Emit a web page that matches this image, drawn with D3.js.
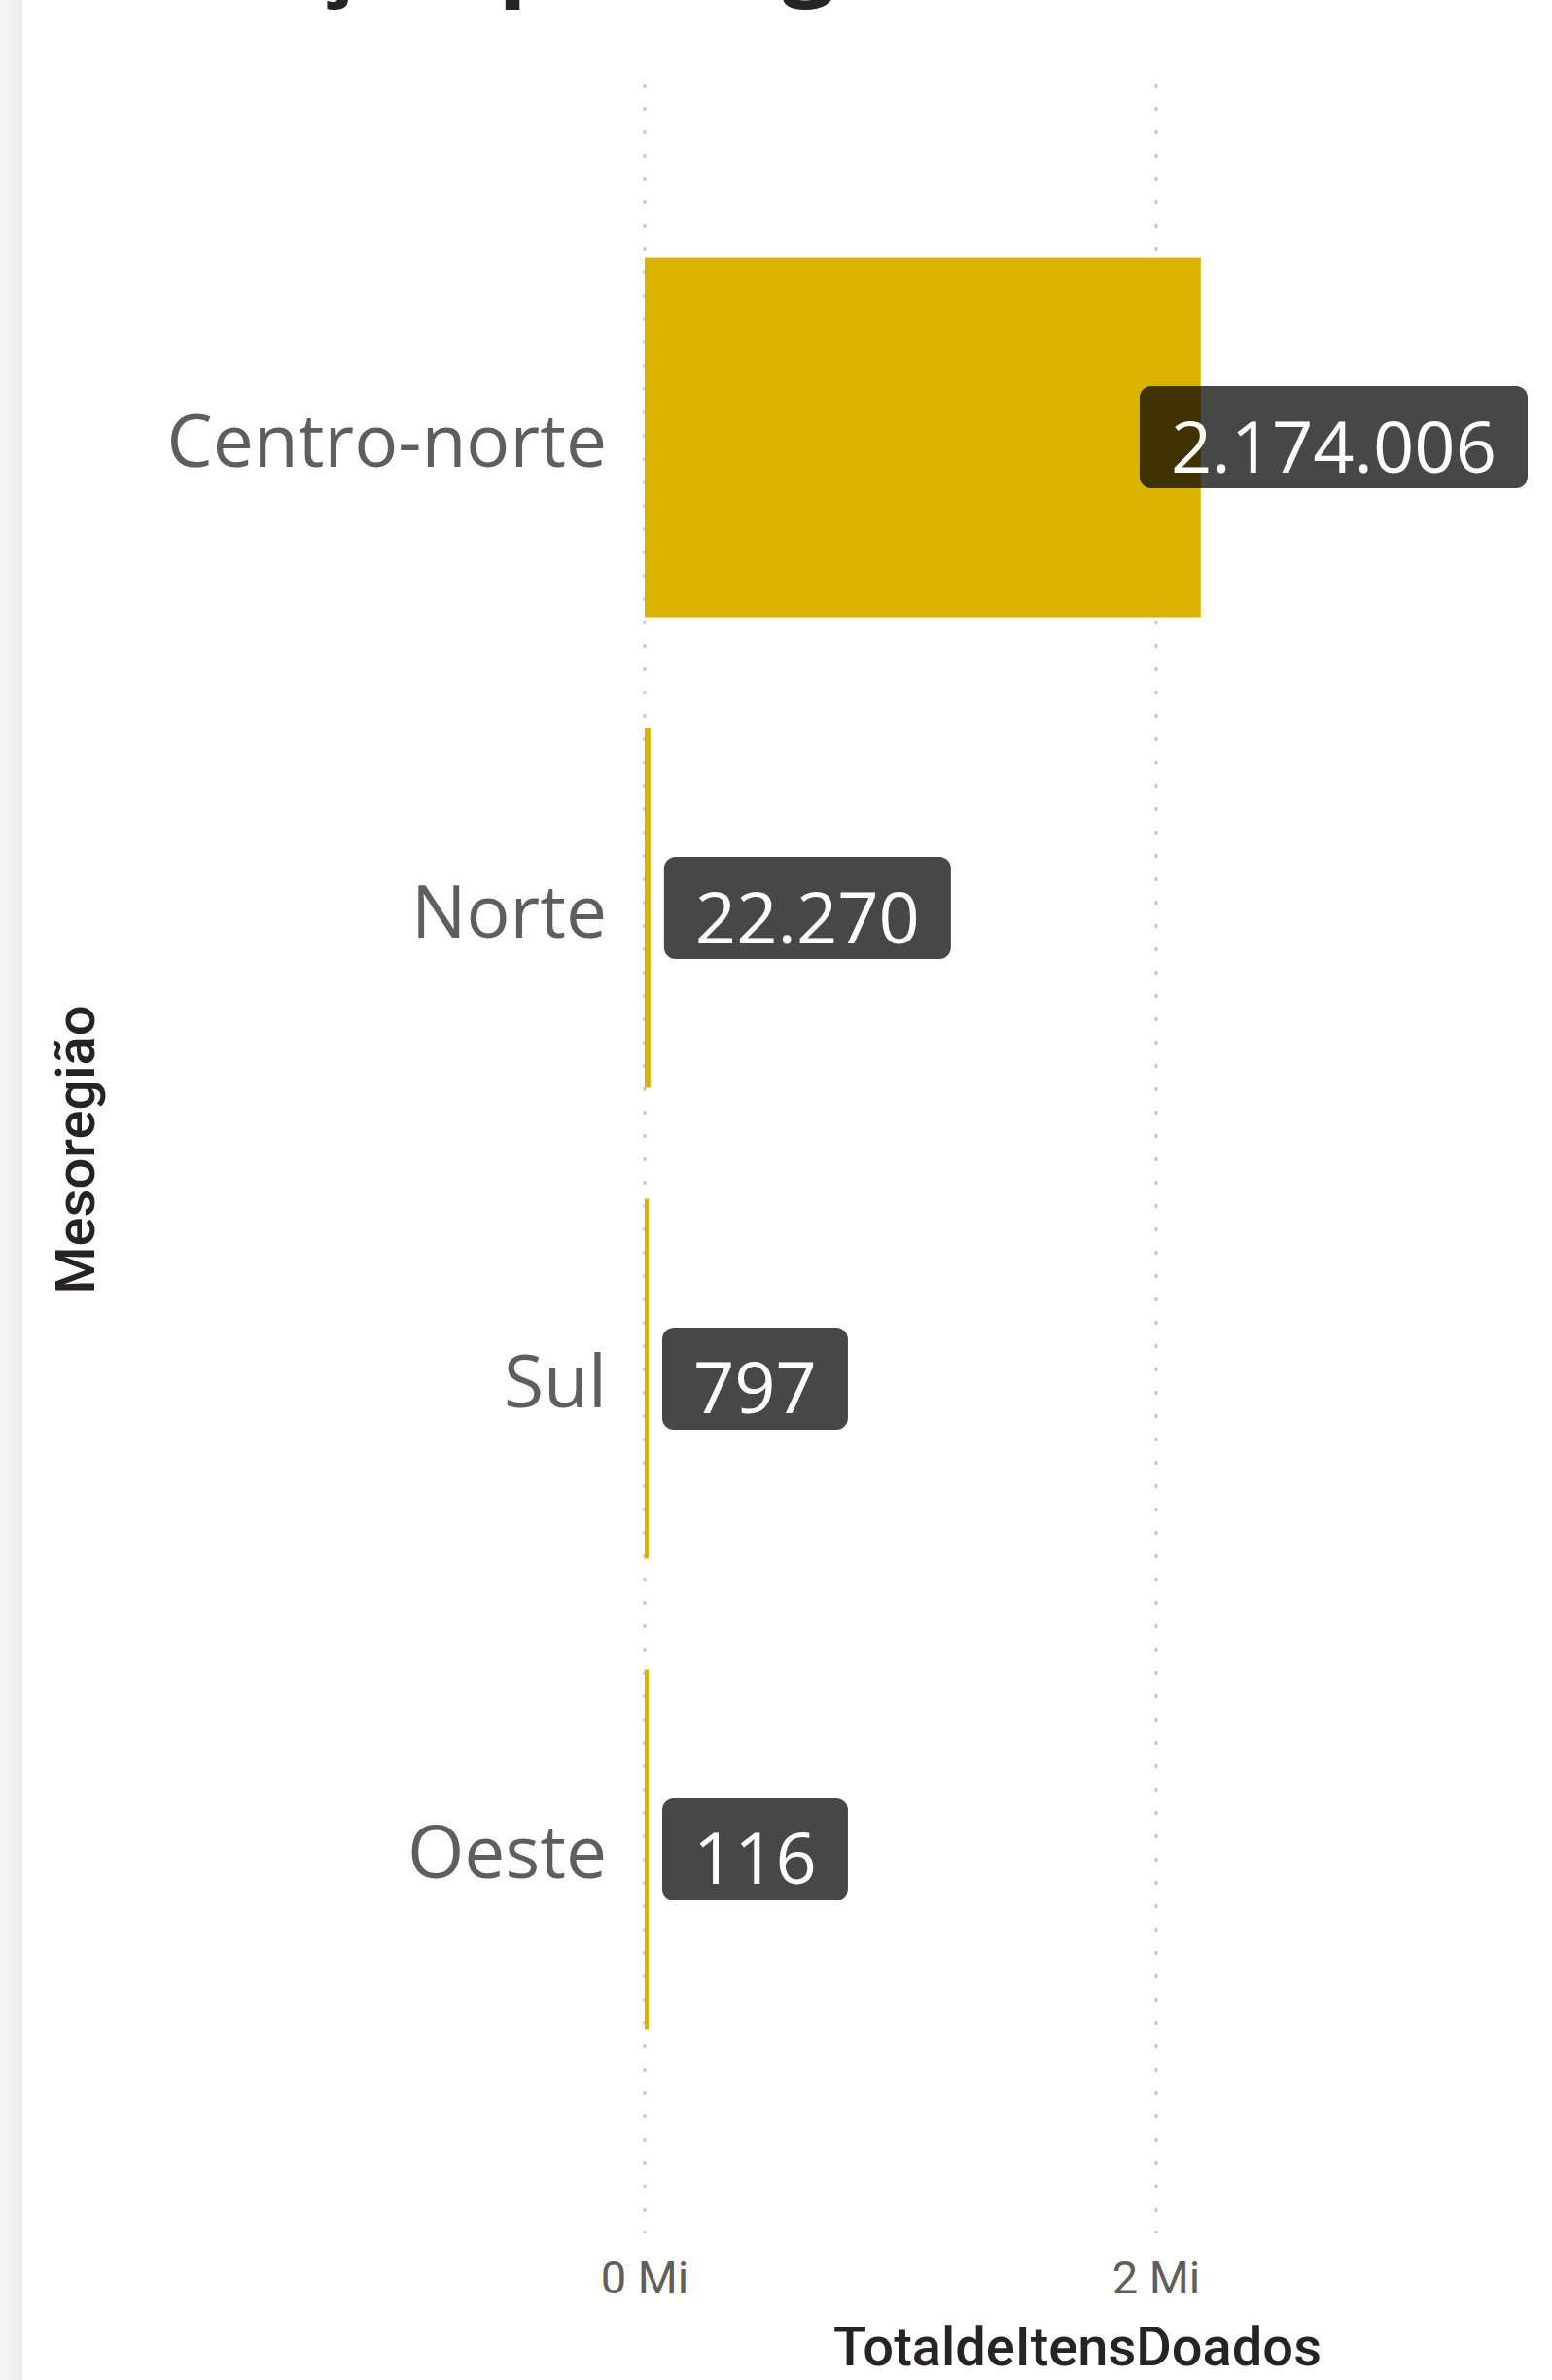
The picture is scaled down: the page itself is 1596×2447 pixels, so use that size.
<!DOCTYPE html>
<html>
<head>
<meta charset="utf-8">
<script src="https://cdn.jsdelivr.net/npm/d3@7"></script>
<style>
  body { margin: 0; background: #fff; }
  svg { display: block; }
</style>
</head>
<body>
<div id="chart"></div>
<script>
// DATA
const categories = ["Centro-norte", "Norte", "Sul", "Oeste"];
const values = [2174006, 22270, 797, 116];
const tickValues = [0, 2000000];
const tickLabels = ["0 Mi", "2 Mi"];
const xMax = 3384000;
const chartTitle = "Doação por região";
const xTitle = "TotaldeItensDoados";
const yTitle = "Mesoregião";

const W = 1596, H = 2447;
const barColor = "#D9B300";
const textGray = "#605E5C";
const labelFont = "'Segoe UI', 'Open Sans', sans-serif";
const dinFont = "Roboto, 'DIN', sans-serif";

const ptBR = d3.formatLocale({ decimal: ",", thousands: ".", grouping: [3], currency: ["R$", ""] });
const fmt = ptBR.format(",d");

const svg = d3.select("#chart").append("svg")
  .attr("width", W)
  .attr("height", H);

// left panel shadow
const defs = svg.append("defs");
const grad = defs.append("linearGradient").attr("id", "shadow");
grad.append("stop").attr("offset", "0%").attr("stop-color", "#f7f7f7");
grad.append("stop").attr("offset", "100%").attr("stop-color", "#ececec");
svg.append("rect").attr("x", 0).attr("y", 0).attr("width", 23).attr("height", H)
  .attr("fill", "url(#shadow)");

// title (mostly cut off at top, as in the screenshot)
svg.append("text")
  .attr("x", 128)
  .attr("y", -13)
  .attr("font-family", "'Open Sans', sans-serif")
  .attr("font-weight", 700)
  .attr("font-size", 97)
  .attr("fill", "#252423")
  .text(chartTitle);

// scales
const x = d3.scaleLinear().domain([0, xMax]).range([663, 1553]);
const y = d3.scaleBand().domain(categories).range([86, 2265])
  .paddingInner(0.2355).paddingOuter(0.369);

// gridlines
svg.append("g").selectAll("line")
  .data(tickValues)
  .enter().append("line")
  .attr("x1", d => x(d)).attr("x2", d => x(d))
  .attr("y1", 86).attr("y2", 2296)
  .attr("stroke", "#c8c8c8")
  .attr("stroke-width", 3)
  .attr("stroke-dasharray", "4 20");

// x axis tick labels
svg.append("g").selectAll("text")
  .data(tickValues)
  .enter().append("text")
  .attr("x", d => x(d))
  .attr("y", 2358)
  .attr("text-anchor", "middle")
  .attr("font-family", dinFont)
  .attr("font-size", 47)
  .attr("fill", textGray)
  .text((d, i) => tickLabels[i]);

// x axis title
svg.append("text")
  .attr("x", (x.range()[0] + x.range()[1]) / 2)
  .attr("y", 2432)
  .attr("text-anchor", "middle")
  .attr("font-family", dinFont)
  .attr("font-weight", 500)
  .attr("font-size", 56)
  .attr("fill", "#252423")
  .text(xTitle);

// y axis title
svg.append("text")
  .attr("transform", "translate(97,1182) rotate(-90)")
  .attr("text-anchor", "middle")
  .attr("font-family", dinFont)
  .attr("font-weight", 500)
  .attr("font-size", 56)
  .attr("fill", "#252423")
  .text(yTitle);

// category labels
svg.append("g").selectAll("text")
  .data(categories)
  .enter().append("text")
  .attr("x", 624)
  .attr("y", d => y(d) + y.bandwidth() / 2)
  .attr("dy", "0.4em")
  .attr("text-anchor", "end")
  .attr("font-family", labelFont)
  .attr("font-size", 75)
  .attr("fill", textGray)
  .text(d => d);

// bars
svg.append("g").selectAll("rect")
  .data(categories)
  .enter().append("rect")
  .attr("x", x(0))
  .attr("y", d => y(d))
  .attr("width", (d, i) => Math.max(x(values[i]) - x(0), 4))
  .attr("height", y.bandwidth())
  .attr("fill", barColor);

// data labels
const lab = svg.append("g").selectAll("g")
  .data(categories)
  .enter().append("g");

lab.each(function(d, i) {
  const g = d3.select(this);
  const cy = y(d) + y.bandwidth() / 2;
  const box = g.append("rect");
  const t = g.append("text")
    .attr("font-family", labelFont)
    .attr("font-size", 74)
    .attr("fill", "#fff")
    .attr("text-anchor", "middle")
    .text(fmt(values[i]));
  const tw = t.node().getComputedTextLength();
  const bw = tw + 64, bh = 105;
  const barEnd = x(0) + Math.max(x(values[i]) - x(0), 4);
  let bx = barEnd + 14;
  if (bx + bw > 1571) bx = 1571 - bw;
  box.attr("x", bx).attr("y", cy - bh / 2)
    .attr("width", bw).attr("height", bh)
    .attr("rx", 12)
    .attr("fill", "#000")
    .attr("fill-opacity", 0.72);
  t.attr("x", bx + bw / 2).attr("y", cy + 36);
});
</script>
</body>
</html>
